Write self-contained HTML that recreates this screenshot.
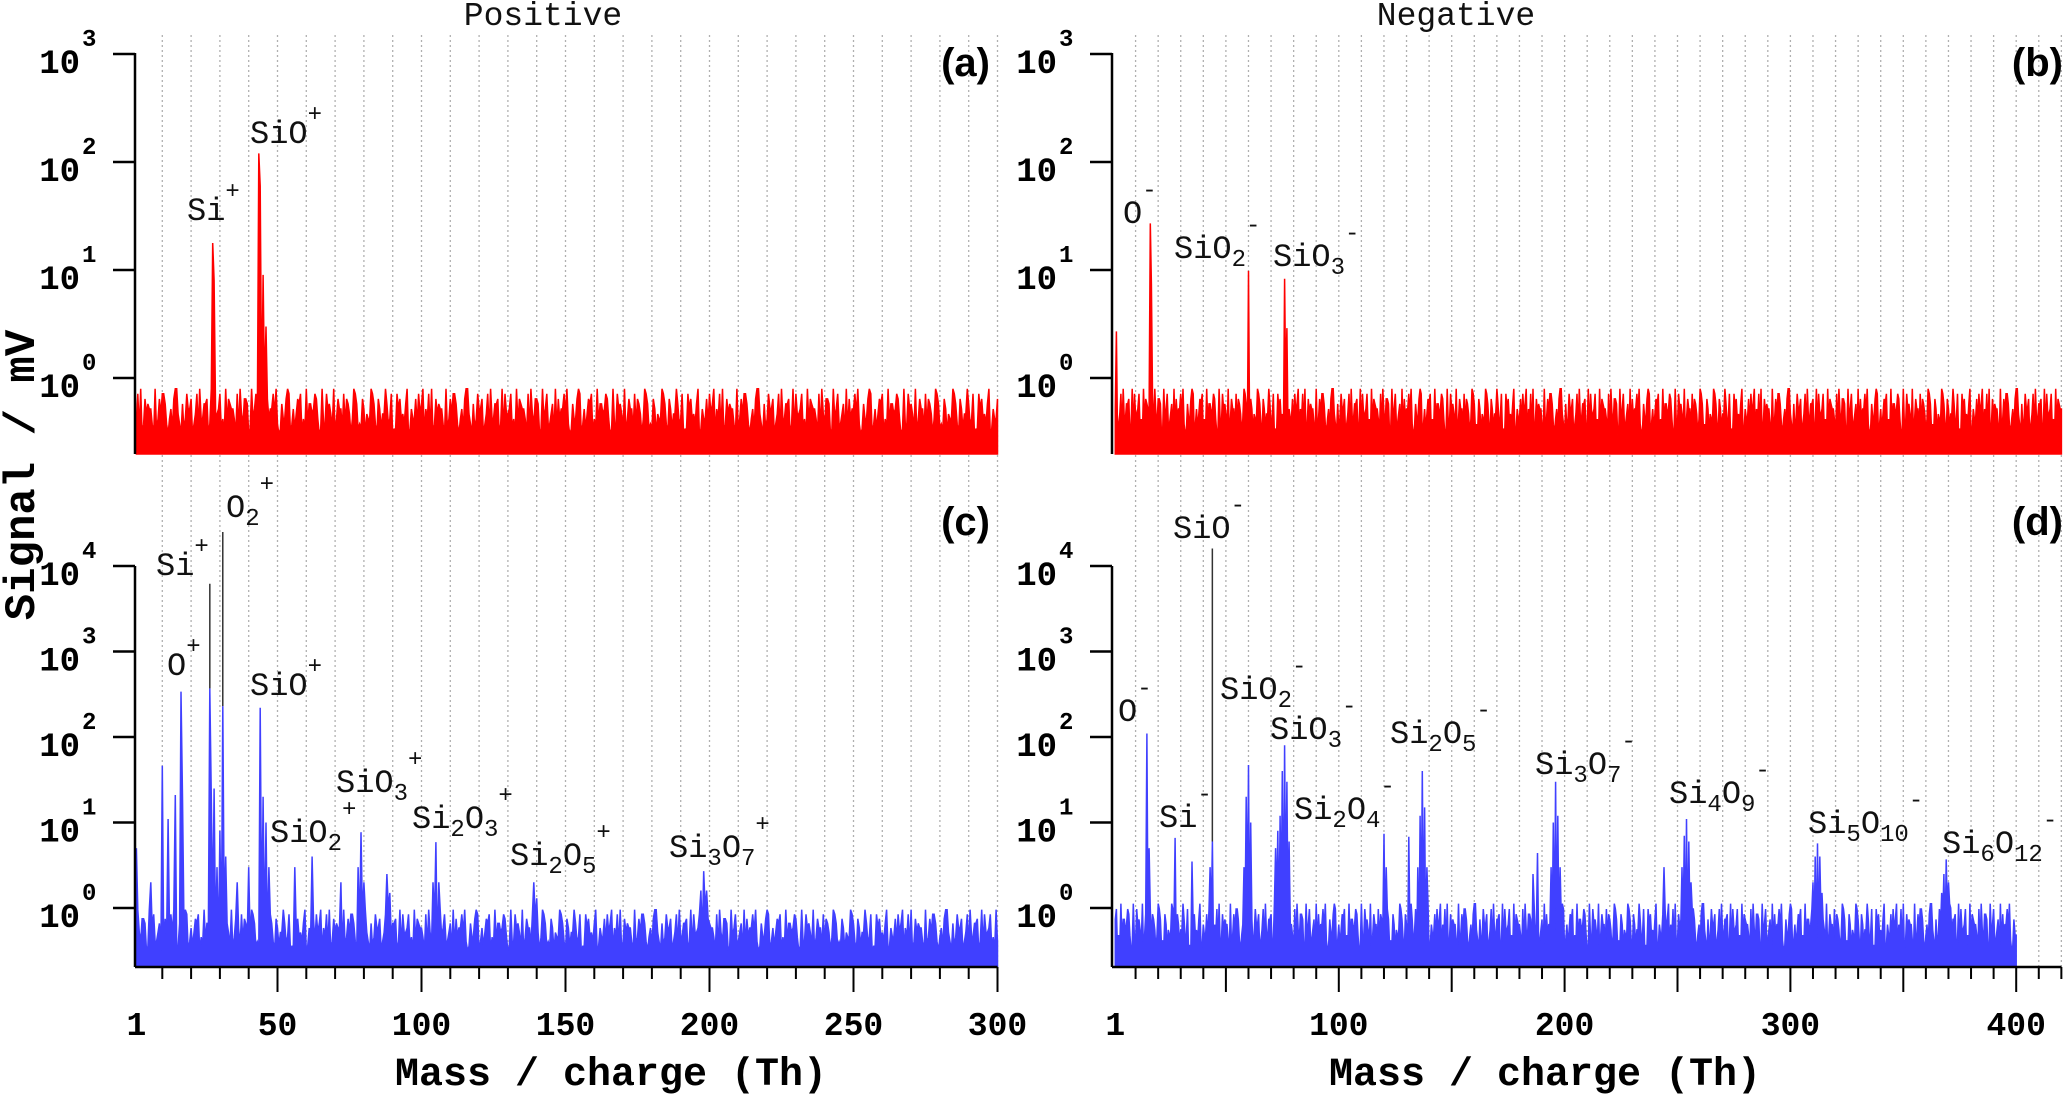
<!DOCTYPE html>
<html><head><meta charset="utf-8"><style>
html,body{margin:0;padding:0;background:#fff}
svg{display:block}
.ion{font-family:"Liberation Mono",monospace;font-size:32px;fill:#111}
.tl{font-family:"Liberation Mono",monospace;font-weight:bold;fill:#000}
.pl{font-family:"Liberation Sans",sans-serif;font-weight:bold;font-size:40px;fill:#000}
</style></head><body>
<svg id="chart" xmlns="http://www.w3.org/2000/svg" width="2067" height="1097" viewBox="0 0 2067 1097">
<g id="grid"></g>
<g id="marks"></g>
<g id="axes"></g>
<text x="543" y="25" text-anchor="middle" class="ion" style="font-size:33px">Positive</text>
<text x="1456" y="25" text-anchor="middle" class="ion" style="font-size:33px">Negative</text>
<text x="990" y="76" text-anchor="end" class="pl">(a)</text>
<text x="2063" y="76" text-anchor="end" class="pl">(b)</text>
<text x="990" y="535" text-anchor="end" class="pl">(c)</text>
<text x="2063" y="535" text-anchor="end" class="pl">(d)</text>
<text transform="translate(34,475) rotate(-90)" text-anchor="middle" class="tl" style="font-size:44px">Signal / mV</text>
<text x="611" y="1085" text-anchor="middle" class="tl" style="font-size:40px">Mass / charge (Th)</text>
<text x="1545" y="1085" text-anchor="middle" class="tl" style="font-size:40px">Mass / charge (Th)</text>
<text x="187" y="220" class="ion">Si<tspan dy="-22" font-size="24">+</tspan></text>
<text x="250" y="143" class="ion">SiO<tspan dy="-22" font-size="24">+</tspan></text>
<text x="1123" y="223" class="ion">O<tspan dy="-26" font-size="24">-</tspan></text>
<text x="1174" y="258" class="ion">SiO<tspan dy="8" font-size="24">2</tspan><tspan dy="-34" font-size="24">-</tspan></text>
<text x="1273" y="266" class="ion">SiO<tspan dy="8" font-size="24">3</tspan><tspan dy="-34" font-size="24">-</tspan></text>
<text x="167" y="675" class="ion">O<tspan dy="-22" font-size="24">+</tspan></text>
<text x="156" y="575" class="ion">Si<tspan dy="-22" font-size="24">+</tspan></text>
<text x="226" y="517" class="ion">O<tspan dy="8" font-size="24">2</tspan><tspan dy="-34" font-size="24">+</tspan></text>
<text x="250" y="695" class="ion">SiO<tspan dy="-22" font-size="24">+</tspan></text>
<text x="270" y="842" class="ion">SiO<tspan dy="8" font-size="24">2</tspan><tspan dy="-34" font-size="24">+</tspan></text>
<text x="336" y="792" class="ion">SiO<tspan dy="8" font-size="24">3</tspan><tspan dy="-34" font-size="24">+</tspan></text>
<text x="412" y="828" class="ion">Si<tspan dy="8" font-size="24">2</tspan><tspan dy="-8">O</tspan><tspan dy="8" font-size="24">3</tspan><tspan dy="-34" font-size="24">+</tspan></text>
<text x="510" y="865" class="ion">Si<tspan dy="8" font-size="24">2</tspan><tspan dy="-8">O</tspan><tspan dy="8" font-size="24">5</tspan><tspan dy="-34" font-size="24">+</tspan></text>
<text x="669" y="857" class="ion">Si<tspan dy="8" font-size="24">3</tspan><tspan dy="-8">O</tspan><tspan dy="8" font-size="24">7</tspan><tspan dy="-34" font-size="24">+</tspan></text>
<text x="1118" y="721" class="ion">O<tspan dy="-26" font-size="24">-</tspan></text>
<text x="1159" y="827" class="ion">Si<tspan dy="-26" font-size="24">-</tspan></text>
<text x="1173" y="538" class="ion">SiO<tspan dy="-26" font-size="24">-</tspan></text>
<text x="1220" y="699" class="ion">SiO<tspan dy="8" font-size="24">2</tspan><tspan dy="-34" font-size="24">-</tspan></text>
<text x="1270" y="739" class="ion">SiO<tspan dy="8" font-size="24">3</tspan><tspan dy="-34" font-size="24">-</tspan></text>
<text x="1294" y="819" class="ion">Si<tspan dy="8" font-size="24">2</tspan><tspan dy="-8">O</tspan><tspan dy="8" font-size="24">4</tspan><tspan dy="-34" font-size="24">-</tspan></text>
<text x="1390" y="743" class="ion">Si<tspan dy="8" font-size="24">2</tspan><tspan dy="-8">O</tspan><tspan dy="8" font-size="24">5</tspan><tspan dy="-34" font-size="24">-</tspan></text>
<text x="1535" y="774" class="ion">Si<tspan dy="8" font-size="24">3</tspan><tspan dy="-8">O</tspan><tspan dy="8" font-size="24">7</tspan><tspan dy="-34" font-size="24">-</tspan></text>
<text x="1669" y="803" class="ion">Si<tspan dy="8" font-size="24">4</tspan><tspan dy="-8">O</tspan><tspan dy="8" font-size="24">9</tspan><tspan dy="-34" font-size="24">-</tspan></text>
<text x="1808" y="833" class="ion">Si<tspan dy="8" font-size="24">5</tspan><tspan dy="-8">O</tspan><tspan dy="8" font-size="24">10</tspan><tspan dy="-34" font-size="24">-</tspan></text>
<text x="1942" y="853" class="ion">Si<tspan dy="8" font-size="24">6</tspan><tspan dy="-8">O</tspan><tspan dy="8" font-size="24">12</tspan><tspan dy="-34" font-size="24">-</tspan></text>
</svg>
<script>
// ---- data ----
const noiseDigits = "3819027465520913748862035179942061385570248193366702918445813092765530819427760193582246091735584920163379802514768031926645873019228564190375518276403986121750433986207514496238011857342690153372846905";
const massesA = [27.5, 28, 43.5, 44, 45, 46];
const valuesA = [17.8, 8, 120, 60, 9, 3];
const massesB = [1.5, 16.5, 17, 60, 76, 77];
const valuesB = [2.7, 27, 7.4, 9.8, 8.3, 2.9];
const massesC = [1, 6, 10, 12, 14.5, 16.5, 17, 26.5, 27, 28, 29, 30, 31, 32, 36, 40, 44, 45, 46, 47, 56, 62, 72, 78, 79, 80, 88, 89, 104, 105, 106, 139, 140, 197, 198, 199];
const valuesC = [5, 2, 46, 11, 21, 340, 20, 370, 20, 25, 3, 8, 230, 4, 2, 3, 220, 20, 10, 3, 3, 4, 2, 3, 7.7, 2, 2.5, 1.5, 2, 5.9, 2, 2, 1.3, 1.6, 2.7, 1.6];
const massesD = [15, 16, 27.5, 35, 43, 44, 58, 59, 60, 61, 72, 73, 74, 75, 76, 77, 78, 120, 121, 131, 135, 136, 137, 138, 139, 186, 188, 194, 195, 196, 197, 198, 244, 252, 253, 254, 255, 256, 310, 311, 312, 313, 314, 367, 368, 369, 370, 371];
const valuesD = [110, 5, 6.6, 3.5, 3, 6, 3, 20, 47, 10, 5, 8, 12, 40, 80, 30, 6, 7.4, 3, 6.8, 3, 12, 40, 15, 3, 2.5, 4.4, 3, 10, 30, 12, 3, 3, 3, 7, 11, 6, 2, 2, 4, 5.7, 4, 1.5, 1.5, 2.5, 3.7, 2, 1];
const leaderMassesC = [26.5, 31];
const leaderTopsC = [6200, 25000];
const leaderBasesC = [370, 230];
const leaderMassesD = [44];
const leaderTopsD = [16000];
const leaderBasesD = [6];
const yTicksTop = [0, 1, 2, 3];
const yTicksBottom = [0, 1, 2, 3, 4];
const xLabelsPos = [1, 50, 100, 150, 200, 250, 300];
const xLabelsNeg = [1, 100, 200, 300, 400];

const NS = "http://www.w3.org/2000/svg";
function mk(tag, attrs, parent) { const e = document.createElementNS(NS, tag); for (const k in attrs) e.setAttribute(k, attrs[k]); parent.appendChild(e); return e; }
const grid = document.getElementById('grid'), marks = document.getElementById('marks'), axes = document.getElementById('axes');

const panels = [
 {id:'a', x0:133.5, k:2.88, axisX:135, xmax:300, dataMax:300, y0:378, dec:108, bottom:454, color:'#ff0000', masses:massesA, values:valuesA, nlo:-0.52, nhi:-0.1, off:0, ticks:yTicksTop, topY:53},
 {id:'b', x0:1113, k:2.258, axisX:1112, xmax:420, dataMax:420, y0:378, dec:108, bottom:454, color:'#ff0000', masses:massesB, values:valuesB, nlo:-0.52, nhi:-0.1, off:37, ticks:yTicksTop, topY:53},
 {id:'c', x0:133.5, k:2.88, axisX:135, xmax:300, dataMax:300, y0:908, dec:85.5, bottom:967, color:'#4040ff', masses:massesC, values:valuesC, nlo:-0.5, nhi:-0.02, off:71, ticks:yTicksBottom, topY:566},
 {id:'d', x0:1113, k:2.258, axisX:1112, xmax:420, dataMax:400, y0:908, dec:85.5, bottom:967, color:'#4040ff', masses:massesD, values:valuesD, nlo:-0.5, nhi:0.05, off:113, ticks:yTicksBottom, topY:566}
];

panels.forEach(p => {
  const X = m => p.x0 + p.k * m;
  const Y = lg => p.y0 - p.dec * lg;
  if (p.id === 'a' || p.id === 'b') {
    for (let m = 10; m <= p.xmax; m += 10) {
      const g = mk('line', {x1:X(m), x2:X(m), y1:35, y2:967, stroke:'#b0b0b0', 'stroke-width':1.3, 'stroke-dasharray':'2,3'}, grid);
      
      
    }
  }
  const pk = {};
  p.masses.forEach((m, i) => { pk[Math.round(m * 2)] = Math.log10(p.values[i]); });
  let d = 'M' + X(1).toFixed(1) + ',' + p.bottom;
  let idx = p.off;
  for (let i = 2; i <= p.dataMax * 2; i++) {
    const dg = +noiseDigits[idx % noiseDigits.length]; idx++;
    let lg = p.nlo + dg * (p.nhi - p.nlo) / 9;
    if (pk[i] !== undefined && pk[i] > lg) lg = pk[i];
    const x = X(i / 2);
    d += ' L' + x.toFixed(1) + ',' + Y(lg).toFixed(1);
  }
  d += ' L' + X(p.dataMax).toFixed(1) + ',' + p.bottom + ' Z';
  const area = mk('path', {d:d, fill:p.color, stroke:p.color, 'stroke-width':1.5}, marks);
  
  
  const ax = mk('line', {x1:p.axisX, x2:p.axisX, y1:p.topY, y2:p.bottom, stroke:'#000', 'stroke-width':2.5}, axes);
  
  
  p.ticks.forEach(t => {
    const ty = Y(t);
    const tk = mk('line', {x1:p.axisX - 22, x2:p.axisX, y1:ty, y2:ty, stroke:'#000', 'stroke-width':2.5}, axes);
    
    
    const tx = mk('text', {x:p.axisX - 55, y:ty + 19, 'text-anchor':'end', class:'tl', 'font-size':34}, axes);
    tx.textContent = '10';
    
    
    const sp = mk('text', {x:p.axisX - 53, y:ty - 8, class:'tl', 'font-size':24}, axes);
    sp.textContent = String(t);
    
    
  });
  if (p.id === 'c' || p.id === 'd') {
    const xa = mk('line', {x1:p.axisX, x2:X(p.xmax), y1:p.bottom, y2:p.bottom, stroke:'#000', 'stroke-width':2.5}, axes);
    
    
    for (let m = 10; m <= p.xmax; m += 10) {
      const major = m % 50 === 0;
      const t = mk('line', {x1:X(m), x2:X(m), y1:p.bottom, y2:p.bottom + (major ? 25 : 12), stroke:'#000', 'stroke-width':2}, axes);
      
      
    }
    const labs = p.id === 'c' ? xLabelsPos : xLabelsNeg;
    labs.forEach(v => {
      const t = mk('text', {x:X(v), y:1035, 'text-anchor':'middle', class:'tl', 'font-size':33}, axes);
      t.textContent = String(v);
      
      
    });
    const lm = p.id === 'c' ? leaderMassesC : leaderMassesD;
    const lt = p.id === 'c' ? leaderTopsC : leaderTopsD;
    const lb = p.id === 'c' ? leaderBasesC : leaderBasesD;
    lm.forEach((m, i) => {
      const l = mk('line', {x1:X(m), x2:X(m), y1:Y(Math.log10(lt[i])), y2:Y(Math.log10(lb[i])), stroke:'#333', 'stroke-width':1.5}, marks);
      
      
    });
  }
});
</script>
</body></html>
